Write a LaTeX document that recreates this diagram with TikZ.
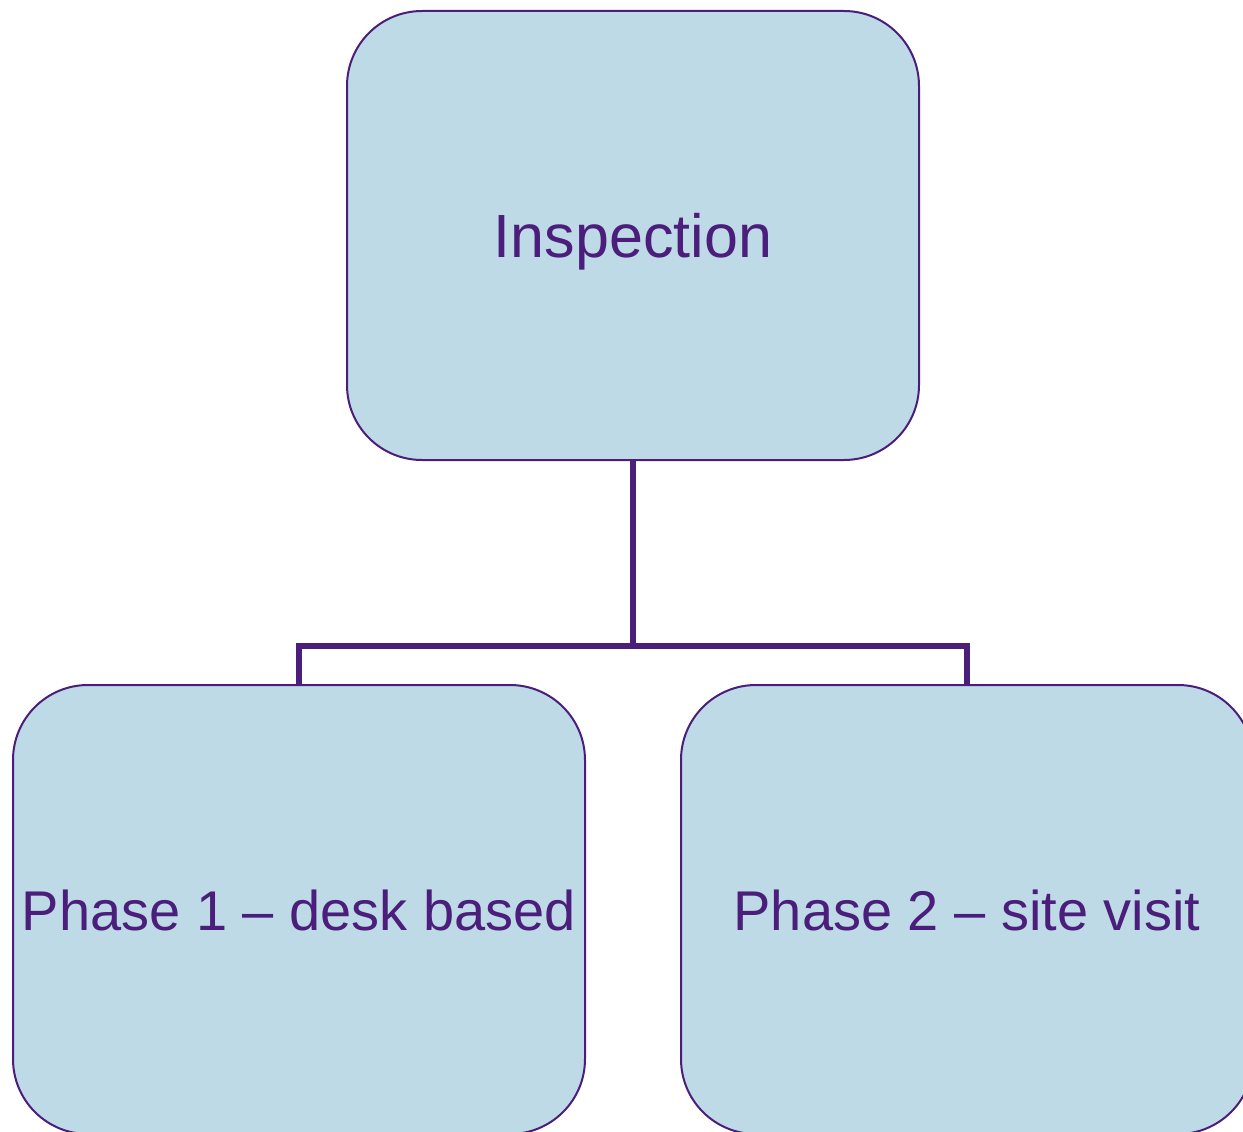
\documentclass[tikz,border=0pt]{standalone}
\usepackage{fontspec}
\setmainfont{Liberation Sans}
\usetikzlibrary{calc}
\definecolor{boxfill}{HTML}{BFDAE7}
\definecolor{ink}{HTML}{4A1E7A}
\begin{document}
\begin{tikzpicture}[x=1pt,y=-1pt,
  card/.style={draw=ink, line width=2pt, fill=boxfill, rounded corners=75pt,
    minimum width=572pt, minimum height=449pt, inner sep=0pt, anchor=north west,
    text=ink, font=\fontsize{61}{70}\selectfont, text height=44pt, text depth=0pt},
  phase/.style={card, font=\fontsize{56}{66}\selectfont, text height=41pt},
  link/.style={draw=ink, line width=6pt}]
\useasboundingbox (0,0) rectangle (1243,1132);
\clip (0,0) rectangle (1243,1132);
\node[card] (top) at (346,10) {Inspection};
\node[phase] (left) at (12,684) {Phase 1 -- desk based};
\node[phase] (right) at (680,684) {Phase 2 -- site visit};
\coordinate (split) at ($(top.south)+(0,185)$);
\draw[link] (top.south) -- (split);
\draw[link] (left.north) |- (split) -| (right.north);
\end{tikzpicture}
\end{document}
